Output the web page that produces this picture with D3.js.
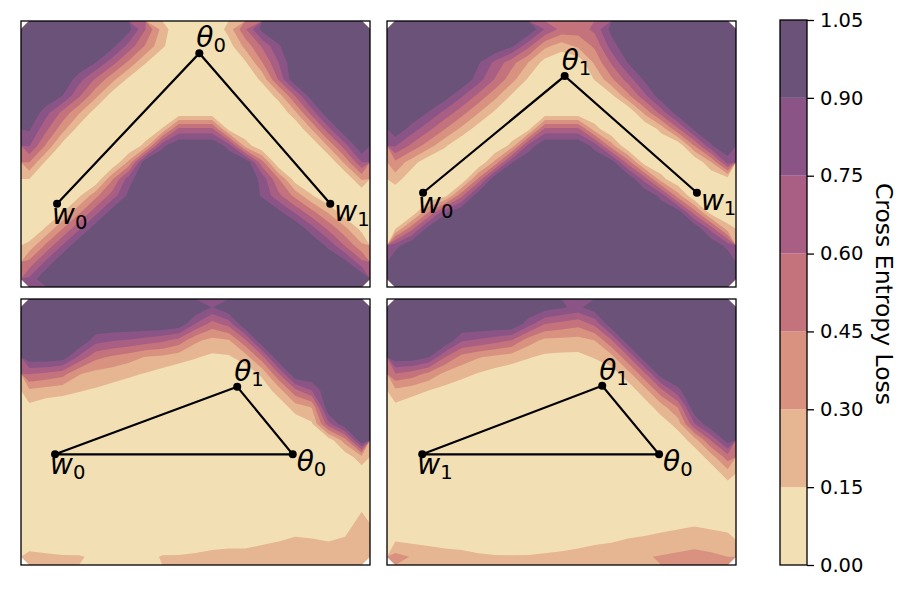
<!DOCTYPE html>
<html>
<head>
<meta charset="utf-8">
<script src="https://cdn.jsdelivr.net/npm/d3@7"></script>
<style>
  body { margin: 0; background: #fff; }
  svg { display: block; font-family: "DejaVu Sans", sans-serif; }
</style>
</head>
<body>
<svg id="chart" width="910" height="591"></svg>
<script>
// contour levels of the loss and their fill colours
const levels = [0, 0.15, 0.30, 0.45, 0.60, 0.75, 0.90, 1.05];
const levelColors = ["#f3dfb4", "#e6b592", "#d8927f", "#c4737c", "#a95e84", "#8a5487", "#6b5279"];

// loss on a 21 x 16 grid (values x 100), top row first
const lossA = [
  [105,105,105,105,105,105,95,60,24,0,0,0,21,58,95,105,105,105,105,105,105],
  [105,105,105,105,105,95,69,43,18,0,0,0,8,35,62,88,105,105,105,105,105],
  [105,105,105,105,90,66,41,16,0,0,0,0,0,13,44,75,105,105,105,105,105],
  [105,105,105,81,58,35,11,0,0,0,0,0,0,0,19,62,105,105,105,105,105],
  [105,105,90,62,34,7,0,0,0,0,0,0,0,0,0,22,61,100,105,105,105],
  [105,81,56,32,7,0,0,0,0,2,2,2,0,0,0,0,27,67,105,105,105],
  [92,64,36,8,0,0,0,0,16,64,64,64,10,0,0,0,0,31,70,105,105],
  [76,43,9,0,0,0,0,21,86,105,105,105,84,24,0,0,0,0,32,69,105],
  [45,12,0,0,0,0,34,105,105,105,105,105,105,105,51,0,0,0,0,34,75],
  [15,0,0,0,2,43,84,105,105,105,105,105,105,105,85,46,7,0,0,0,32],
  [0,0,0,12,40,67,94,105,105,105,105,105,105,105,88,64,40,16,0,0,0],
  [0,0,14,42,70,98,105,105,105,105,105,105,105,105,105,95,73,50,28,5,0],
  [0,17,45,73,100,105,105,105,105,105,105,105,105,105,105,105,105,81,57,34,10],
  [20,48,76,104,105,105,105,105,105,105,105,105,105,105,105,105,105,105,86,59,33],
  [49,78,105,105,105,105,105,105,105,105,105,105,105,105,105,105,105,105,105,95,64],
  [78,105,105,105,105,105,105,105,105,105,105,105,105,105,105,105,105,105,105,105,105]
];
const lossB = [
  [105,105,105,105,105,105,105,105,105,74,55,52,64,95,105,105,105,105,105,105,105],
  [105,105,105,105,105,105,105,93,65,34,23,33,48,82,105,105,105,105,105,105,105],
  [105,105,105,105,105,92,71,51,30,9,0,4,33,62,91,105,105,105,105,105,105],
  [105,105,105,105,105,82,59,36,13,0,0,0,16,42,67,93,105,105,105,105,105],
  [105,105,105,98,77,56,35,13,0,0,0,0,0,11,41,71,101,105,105,105,105],
  [105,105,89,70,51,31,12,0,0,2,2,2,0,0,0,34,67,100,105,105,105],
  [102,83,64,45,26,7,0,0,9,64,64,64,22,0,0,0,20,57,94,105,105],
  [76,56,37,17,0,0,0,20,80,105,105,105,84,37,0,0,0,1,45,88,105],
  [41,22,3,0,0,0,34,89,105,105,105,105,105,100,53,6,0,0,0,29,81],
  [23,3,0,0,0,48,104,105,105,105,105,105,105,105,105,68,21,0,0,0,8],
  [0,0,0,9,56,103,105,105,105,105,105,105,105,105,105,105,84,37,0,0,0],
  [0,2,45,87,105,105,105,105,105,105,105,105,105,105,105,105,105,100,53,6,0],
  [14,56,98,105,105,105,105,105,105,105,105,105,105,105,105,105,105,105,105,69,22],
  [83,105,105,105,105,105,105,105,105,105,105,105,105,105,105,105,105,105,105,105,84],
  [105,105,105,105,105,105,105,105,105,105,105,105,105,105,105,105,105,105,105,105,105],
  [105,105,105,105,105,105,105,105,105,105,105,105,105,105,105,105,105,105,105,105,105]
];
const lossC = [
  [105,105,105,105,105,105,105,105,105,105,105,89,105,105,105,105,105,105,105,105,105],
  [105,105,105,105,105,105,105,105,105,102,74,54,66,105,105,105,105,105,105,105,105],
  [105,105,105,105,81,76,73,68,63,54,33,25,28,57,105,105,105,105,105,105,105],
  [101,102,99,71,49,42,36,29,26,21,16,12,13,22,54,105,105,105,105,105,105],
  [61,57,51,31,25,22,18,14,9,5,5,5,5,5,18,59,105,105,105,105,105],
  [27,23,20,16,13,9,5,5,5,5,5,5,5,5,5,22,56,75,105,105,105],
  [11,6,5,5,5,5,5,5,5,5,5,5,5,5,5,5,22,31,105,105,105],
  [5,5,5,5,5,5,5,5,5,5,5,5,5,5,5,5,5,13,70,105,105],
  [5,5,5,5,5,5,5,5,5,5,5,5,5,5,5,5,5,5,5,38,105],
  [5,5,5,5,5,5,5,5,5,5,5,5,5,5,5,5,5,5,5,5,25],
  [5,5,5,5,5,5,5,5,5,5,5,5,5,5,5,5,5,5,5,5,5],
  [5,5,5,5,5,5,5,5,5,5,5,5,5,5,5,5,5,5,5,5,5],
  [5,5,5,5,5,5,5,5,5,5,5,5,5,5,5,5,5,5,5,5,12],
  [5,5,5,5,5,5,5,5,5,5,5,5,5,5,5,5,7,6,5,7,22],
  [9,7,6,5,5,5,5,5,5,6,8,9,10,10,12,14,17,16,14,17,28],
  [18,17,16,16,13,12,12,11,16,16,17,19,20,20,22,25,27,26,25,27,28]
];
const lossD = [
  [105,105,105,105,105,105,105,105,105,98,92,86,100,105,105,105,105,105,105,105,105],
  [105,105,105,105,105,105,105,105,82,60,55,50,64,102,105,105,105,105,105,105,105],
  [105,105,105,103,77,72,66,59,37,26,25,24,30,58,102,105,105,105,105,105,105],
  [100,100,91,60,39,31,26,22,16,12,11,11,16,24,57,101,105,105,105,105,105],
  [59,53,41,26,20,14,9,5,5,5,5,5,5,8,23,57,100,105,105,105,105],
  [26,21,15,10,5,5,5,5,5,5,5,5,5,5,6,23,56,86,105,105,105],
  [11,5,5,5,5,5,5,5,5,5,5,5,5,5,5,7,23,46,105,105,105],
  [5,5,5,5,5,5,5,5,5,5,5,5,5,5,5,5,7,21,74,105,105],
  [5,5,5,5,5,5,5,5,5,5,5,5,5,5,5,5,5,6,22,61,98],
  [5,5,5,5,5,5,5,5,5,5,5,5,5,5,5,5,5,5,5,22,53],
  [5,5,5,5,5,5,5,5,5,5,5,5,5,5,5,5,5,5,5,5,22],
  [5,5,5,5,5,5,5,5,5,5,5,5,5,5,5,5,5,5,5,5,5],
  [5,5,5,5,5,5,5,5,5,5,5,5,5,5,5,5,5,5,5,5,5],
  [5,5,5,5,5,5,5,5,5,5,5,5,5,5,5,6,9,11,13,11,9],
  [13,11,10,10,9,7,6,5,6,7,9,10,12,13,16,18,20,22,24,22,20],
  [35,29,24,20,19,17,16,16,16,17,18,20,22,25,27,29,31,33,35,33,30]
];

// model points in grid units
const pointsA = [
  {name: "w", sub: "0", x: 2.17, y: 10.99, place: "below"},
  {name: "θ", sub: "0", x: 10.73, y: 1.94, place: "above"},
  {name: "w", sub: "1", x: 18.61, y: 10.99, place: "right"}
];
const pointsB = [
  {name: "w", sub: "0", x: 2.17, y: 10.33, place: "below"},
  {name: "θ", sub: "1", x: 10.69, y: 3.31, place: "above"},
  {name: "w", sub: "1", x: 18.65, y: 10.33, place: "right"}
];
const pointsC = [
  {name: "w", sub: "0", x: 2.05, y: 9.34, place: "below"},
  {name: "θ", sub: "1", x: 13.01, y: 5.28, place: "above"},
  {name: "θ", sub: "0", x: 16.35, y: 9.34, place: "right"}
];
const pointsD = [
  {name: "w", sub: "1", x: 2.12, y: 9.34, place: "below"},
  {name: "θ", sub: "1", x: 12.95, y: 5.22, place: "above"},
  {name: "θ", sub: "0", x: 16.37, y: 9.34, place: "right"}
];

const nx = 21, ny = 16, pw = 349, ph = 266;
const panels = [
  {left: 21, top: 21, grid: lossA, points: pointsA, closed: false},
  {left: 387, top: 21, grid: lossB, points: pointsB, closed: false},
  {left: 21, top: 299, grid: lossC, points: pointsC, closed: true},
  {left: 387, top: 299, grid: lossD, points: pointsD, closed: true}
];

const svg = d3.select("#chart");
const color = d3.scaleThreshold().domain(levels.slice(1, -1)).range(levelColors);
const labelShift = {above: [-3, -6], below: [-5, 20], right: [4, 17]};

panels.forEach(function (p) {
  const x = d3.scaleLinear().domain([0, nx]).range([p.left, p.left + pw]);
  const y = d3.scaleLinear().domain([0, ny]).range([p.top, p.top + ph]);
  const values = p.grid.flat().map(d => d / 100);
  const bands = d3.contours().size([nx, ny]).thresholds(levels.slice(0, -1))(values);
  const proj = d3.geoPath(d3.geoTransform({
    point: function (px, py) { this.stream.point(x(px), y(py)); }
  }));

  const g = svg.append("g");
  g.selectAll("path.band")
    .data(bands)
    .join("path")
    .attr("class", "band")
    .attr("d", proj)
    .attr("fill", d => color(d.value));

  // path between the models
  const line = d3.line().x(d => x(d.x)).y(d => y(d.y))
    .curve(p.closed ? d3.curveLinearClosed : d3.curveLinear);
  g.append("path")
    .attr("d", line(p.points))
    .attr("fill", "none")
    .attr("stroke", "#000")
    .attr("stroke-width", 2.2);

  g.selectAll("circle")
    .data(p.points)
    .join("circle")
    .attr("cx", d => x(d.x))
    .attr("cy", d => y(d.y))
    .attr("r", 4)
    .attr("fill", "#000");

  const labels = g.selectAll("text.lab")
    .data(p.points)
    .join("text")
    .attr("class", "lab")
    .attr("x", d => x(d.x) + labelShift[d.place][0])
    .attr("y", d => y(d.y) + labelShift[d.place][1])
    .attr("font-size", 28);
  labels.append("tspan").attr("font-style", "italic").text(d => d.name);
  labels.append("tspan").attr("font-size", 19.6).attr("dy", 5).text(d => d.sub);

  g.append("rect")
    .attr("x", p.left).attr("y", p.top)
    .attr("width", pw).attr("height", ph)
    .attr("fill", "none")
    .attr("stroke", "#000")
    .attr("stroke-width", 1.3);
});

// colour bar
const cb = {left: 780, width: 27, top: 20, bottom: 565};
const cy = d3.scaleLinear().domain([0, 1.05]).range([cb.bottom, cb.top]);
const cbar = svg.append("g");
cbar.selectAll("rect.seg")
  .data(levelColors)
  .join("rect")
  .attr("class", "seg")
  .attr("x", cb.left)
  .attr("width", cb.width)
  .attr("y", (d, i) => cy(levels[i + 1]))
  .attr("height", (d, i) => cy(levels[i]) - cy(levels[i + 1]))
  .attr("fill", d => d);
cbar.append("rect")
  .attr("x", cb.left).attr("y", cb.top)
  .attr("width", cb.width).attr("height", cb.bottom - cb.top)
  .attr("fill", "none").attr("stroke", "#000").attr("stroke-width", 1.3);

const axis = d3.axisRight(cy)
  .tickValues(levels)
  .tickFormat(d3.format(".2f"))
  .tickSize(7)
  .tickPadding(6);
const ax = cbar.append("g")
  .attr("transform", `translate(${cb.left + cb.width},0)`)
  .call(axis);
ax.select(".domain").remove();
ax.selectAll(".tick line").attr("stroke", "#000").attr("stroke-width", 1.3);
ax.selectAll(".tick text")
  .attr("fill", "#000")
  .attr("font-size", 19.5)
  .attr("font-family", "DejaVu Sans");

svg.append("text")
  .attr("transform", "translate(876,294) rotate(90)")
  .attr("text-anchor", "middle")
  .attr("font-size", 23.5)
  .attr("fill", "#000")
  .text("Cross Entropy Loss");
</script>
</body>
</html>
